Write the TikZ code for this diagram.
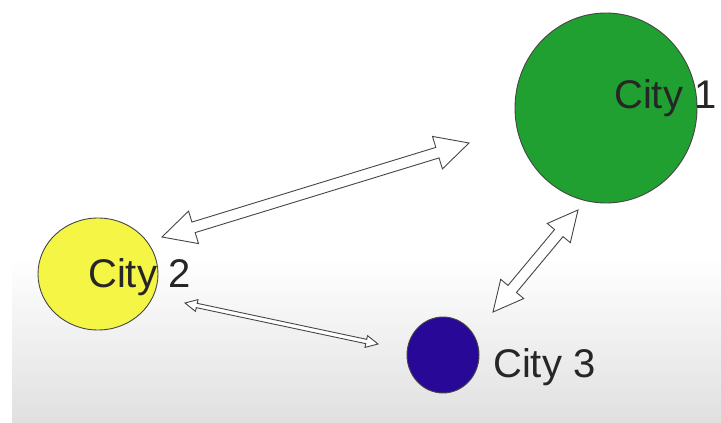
\documentclass[tikz,border=0pt]{standalone}
\usepackage{fontspec}
\setmainfont{Liberation Sans}
\usetikzlibrary{calc,shapes.geometric}
\definecolor{cityA}{RGB}{32,160,48}
\definecolor{cityB}{RGB}{245,245,70}
\definecolor{cityC}{RGB}{40,8,150}
\definecolor{edgeG}{RGB}{70,70,70}
\definecolor{bgbot}{RGB}{224,224,224}
\tikzset{
  city/.style={draw=edgeG, line width=0.9pt, ellipse, inner sep=0pt},
  lbl/.style={font=\fontsize{40}{48}\selectfont, text=black!85, inner sep=0pt, anchor=base west},
  blockarrow/.style={draw=edgeG, fill=white, line width=0.9pt, line join=miter},
}
% #1 tip A, #2 tip B, #3 shaft half width, #4 head half width, #5 head length, #6 name
\newcommand\blockdbl[6]{%
  \coordinate (#6p) at ($(#1)!#5!(#2)$);
  \coordinate (#6q) at ($(#2)!#5!(#1)$);
  \path[blockarrow] (#1)
    -- ($(#6p)!#4!90:(#1)$) -- ($(#6p)!#3!90:(#1)$)
    -- ($(#6q)!#3!-90:(#2)$) -- ($(#6q)!#4!-90:(#2)$)
    -- (#2)
    -- ($(#6q)!#4!90:(#2)$) -- ($(#6q)!#3!90:(#2)$)
    -- ($(#6p)!#3!-90:(#1)$) -- ($(#6p)!#4!-90:(#1)$)
    -- cycle;}
\begin{document}
\begin{tikzpicture}[x=1pt,y=-1pt]
\useasboundingbox (0,0) rectangle (721,423);
\fill[white] (0,0) rectangle (721,423);
\shade[top color=white, bottom color=bgbot] (12,258) rectangle (721,423);
% cities
\node[city, fill=cityA, minimum width=182pt, minimum height=190pt] (c1) at (606,108) {};
\node[city, fill=cityB, minimum width=120pt, minimum height=112pt] (c2) at (98,274) {};
\node[city, fill=cityC, minimum width=72pt, minimum height=76pt] (c3) at (443,355) {};
% labels
\node[lbl] (l1) at (614,108) {City 1};
\node[lbl] (l2) at (88,287) {City 2};
\node[lbl] (l3) at (493,377) {City 3};
% arrow end points
\coordinate (a12a) at (162,237);
\coordinate (a12b) at (469,143);
\coordinate (a23a) at (185,303);
\coordinate (a23b) at (378,344);
\coordinate (a13a) at (578,210);
\coordinate (a13b) at (493,312);
\blockdbl{a12a}{a12b}{5.5pt}{17pt}{33pt}{ar1}
\blockdbl{a23a}{a23b}{2.2pt}{6pt}{12pt}{ar2}
\blockdbl{a13a}{a13b}{5.5pt}{15pt}{30pt}{ar3}
\end{tikzpicture}
\end{document}
